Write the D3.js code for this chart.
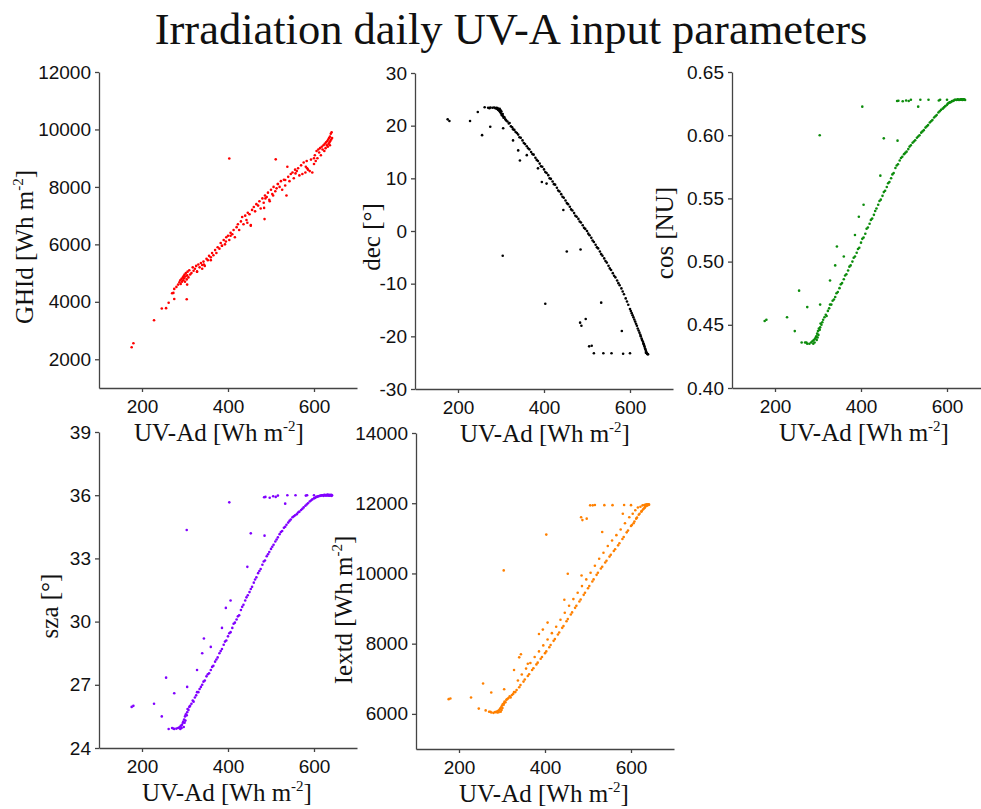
<!DOCTYPE html>
<html>
<head>
<meta charset="utf-8">
<title>Irradiation daily UV-A input parameters</title>
<script src="https://cdn.jsdelivr.net/npm/d3@7"></script>
<style>
  body { margin: 0; background: #fff; }
</style>
</head>
<body>
<svg id="lienzo" width="981" height="809"></svg>
<script>

// daily UV-A [Wh m-2], shared x of every panel (one value per day)
const uvad = [
  270, 275, 280, 284, 287, 289, 290, 292, 293, 295, 296, 297, 298, 299, 300, 301, 302, 304, 305, 306,
  308, 310, 312, 315, 318, 320, 323, 326, 328, 331, 334, 337, 340, 343, 346, 350, 353, 356, 360, 363,
  366, 370, 373, 376, 380, 383, 386, 390, 393, 396,
  400, 403, 406, 410, 413, 416, 420, 423, 426, 430, 433, 436, 440, 443, 446, 450, 453, 456, 460, 463,
  466, 470, 473, 476, 480, 483, 486, 490, 493, 496,
  500, 503, 506, 510, 513, 516, 520, 523, 526, 530, 533, 536, 540, 543, 546, 550, 553, 556, 560, 563,
  566, 570, 573, 576, 580, 583, 586, 590, 593, 596,
  600, 602, 604, 606, 608, 610, 612, 614, 616, 618, 620, 622, 624, 625, 627, 628, 630, 631, 632, 633,
  634, 635, 636, 637, 638, 639, 640, 641, 642, 637,
  176, 180, 228, 246, 256, 262, 275, 273, 304, 403, 511, 453, 485, 533, 484, 487, 497, 505, 516, 538,
  557, 584, 600, 581, 305, 328, 340, 344, 360, 386, 395, 406, 445
];

// GHId [Wh m-2]
const ghid = [
  4300, 4450, 4520, 4600, 4680, 4750, 4620, 4800, 4700, 4850, 4750, 4900, 4820, 4950, 4700, 4880, 5000, 4780, 4920, 5050,
  4850, 5100, 4950, 5000, 5200, 5080, 5150, 5250, 5050, 5300, 5200, 5350, 5280, 5400, 5250, 5500, 5450, 5600, 5550, 5700,
  5620, 5800, 5700, 5900, 5850, 6050, 5950, 6150, 6000, 6250,
  6300, 6150, 6400, 6350, 6500, 6250, 6600, 6700, 6500, 6800, 6950, 6700, 7000, 6850, 7100, 7050, 6650, 7200, 7300, 7150,
  7400, 7350, 7500, 7250, 7600, 7450, 7700, 7650, 7800, 7550,
  7900, 7750, 8000, 7850, 7950, 8100, 8000, 8200, 7900, 8250, 8050, 7700, 8350, 8200, 8450, 8500, 8300, 8600, 8550, 8650,
  8400, 8750, 8450, 8850, 8500, 8900, 8600, 8550, 8950, 8500,
  8800, 9100, 8900, 9250, 9000, 9300, 9200, 9350, 9100, 9400, 9300, 9450, 9250, 9500, 9350, 9550, 9450, 9600, 9400, 9650,
  9500, 9700, 9550, 9750, 9600, 9850, 9650, 9900, 9700, 9450,
  2420, 2560, 3360, 3770, 3780, 3970, 4100, 4310, 4090, 8990, 8960, 6670, 6880, 8240, 7270, 7600, 7500, 7700, 8100, 8700,
  8470, 8650, 9000, 8700, 4600, 5050, 5150, 5300, 5450, 5950, 6100, 6300, 6750
];

// declination [°]
const dec = [
  23.4, 23.45, 23.4, 23.44, 23.3, 23.4, 23.2, 23.35, 23.0, 23.1, 22.8, 23.2, 22.6, 22.9, 22.3, 22.7, 22.0, 22.2, 21.8, 21.5,
  21.6, 21.2, 21.0, 20.8, 20.4, 20.5, 19.9, 19.7, 19.3, 19.2, 18.8, 18.6, 18.3, 17.8, 17.7, 17.2, 16.7, 16.5, 16.1, 15.7,
  15.5, 15.0, 14.6, 14.5, 13.9, 13.5, 13.3, 12.8, 12.3, 12.2,
  11.7, 11.2, 11.0, 10.6, 10.0, 9.9, 9.4, 8.9, 8.8, 8.2, 7.7, 7.5, 7.0, 6.5, 6.3, 5.8, 5.3, 5.1, 4.6, 4.1,
  3.9, 3.4, 2.9, 2.7, 2.3, 1.8, 1.6, 1.1, 0.6, 0.4,
  0.0, -0.5, -0.8, -1.3, -1.8, -2.1, -2.6, -3.1, -3.3, -3.9, -4.4, -4.7, -5.2, -5.7, -6.0, -6.6, -7.1, -7.4, -8.0, -8.5,
  -8.8, -9.4, -9.9, -10.3, -10.9, -11.5, -12.0, -12.8, -13.4, -14.0,
  -14.8, -15.2, -15.6, -16.0, -16.4, -16.8, -17.2, -17.6, -18.0, -18.5, -18.9, -19.3, -19.7, -20.0, -20.4, -20.7, -21.0, -21.3, -21.5, -21.8,
  -22.0, -22.3, -22.5, -22.8, -23.0, -23.2, -23.3, -23.4, -23.4, -23.1,
  21.2, 20.9, 20.9, 22.6, 18.2, 23.5, 19.8, 23.3, -4.7, -13.8, -21.8, -3.9, -3.5, -13.6, -17.4, -18.0, -16.7, -21.9, -23.2, -23.2,
  -23.2, -23.3, -23.2, -19.0, 19.5, 17.2, 15.3, 13.4, 14.4, 11.9, 9.3, 9.0, 4.0
];

// cos [NU]
const cosz = [
  0.436, 0.435, 0.435, 0.436, 0.437, 0.435, 0.438, 0.436, 0.439, 0.440, 0.441, 0.438, 0.443, 0.440, 0.445, 0.442, 0.447, 0.446, 0.448, 0.451,
  0.450, 0.452, 0.454, 0.456, 0.458, 0.457, 0.461, 0.463, 0.466, 0.466, 0.469, 0.470, 0.472, 0.475, 0.476, 0.479, 0.482, 0.483, 0.486, 0.489,
  0.490, 0.493, 0.496, 0.497, 0.500, 0.503, 0.504, 0.507, 0.510, 0.511,
  0.515, 0.518, 0.519, 0.522, 0.526, 0.527, 0.530, 0.533, 0.534, 0.537, 0.540, 0.542, 0.545, 0.548, 0.549, 0.552, 0.555, 0.556, 0.559, 0.562,
  0.563, 0.566, 0.569, 0.570, 0.574, 0.576, 0.577, 0.580, 0.582, 0.583,
  0.585, 0.586, 0.587, 0.589, 0.591, 0.592, 0.594, 0.595, 0.596, 0.598, 0.599, 0.600, 0.602, 0.603, 0.604, 0.606, 0.607, 0.608, 0.610, 0.611,
  0.612, 0.614, 0.615, 0.616, 0.618, 0.619, 0.620, 0.621, 0.622, 0.623,
  0.624, 0.625, 0.6255, 0.626, 0.626, 0.6265, 0.627, 0.627, 0.6275, 0.628, 0.628, 0.6278, 0.628, 0.6284, 0.628, 0.6278, 0.628, 0.6282, 0.628, 0.6285,
  0.6283, 0.628, 0.6278, 0.628, 0.6284, 0.628, 0.6282, 0.628, 0.6279, 0.6282,
  0.453, 0.454, 0.456, 0.445, 0.477, 0.436, 0.464, 0.436, 0.600, 0.6226, 0.627, 0.5975, 0.5957, 0.6226, 0.627, 0.6272, 0.6268, 0.6275, 0.628, 0.628,
  0.628, 0.628, 0.628, 0.6275, 0.466, 0.485, 0.497, 0.512, 0.504, 0.521, 0.5355, 0.545, 0.568
];

// sza [°]
const sza = [
  24.95, 24.9, 24.92, 24.95, 24.98, 24.9, 25.05, 24.95, 25.1, 25.2, 25.25, 25.0, 25.35, 25.2, 25.5, 25.3, 25.6, 25.55, 25.7, 25.85,
  25.8, 25.95, 26.0, 26.1, 26.25, 26.2, 26.4, 26.5, 26.65, 26.65, 26.8, 26.9, 27.0, 27.15, 27.2, 27.4, 27.5, 27.55, 27.7, 27.85,
  27.9, 28.1, 28.2, 28.3, 28.5, 28.6, 28.7, 28.9, 29.05, 29.1,
  29.3, 29.45, 29.5, 29.7, 29.9, 29.95, 30.1, 30.25, 30.3, 30.55, 30.7, 30.8, 31.0, 31.15, 31.25, 31.4, 31.55, 31.65, 31.85, 32.0,
  32.1, 32.3, 32.4, 32.5, 32.7, 32.85, 32.9, 33.1, 33.2, 33.3,
  33.45, 33.55, 33.65, 33.8, 33.9, 34.0, 34.15, 34.25, 34.3, 34.45, 34.5, 34.6, 34.7, 34.78, 34.85, 34.95, 35.0, 35.05, 35.1, 35.18,
  35.22, 35.3, 35.36, 35.42, 35.5, 35.56, 35.62, 35.7, 35.75, 35.8,
  35.85, 35.87, 35.9, 35.92, 35.93, 35.95, 35.96, 35.97, 35.98, 35.99, 36.0, 35.97, 36.02, 35.99, 36.01, 35.98, 36.0, 36.03, 35.99, 36.0,
  36.02, 35.98, 36.0, 36.01, 35.99, 36.0, 36.02, 35.97, 36.0, 36.01,
  25.95, 26.0, 26.1, 25.5, 27.34, 24.9, 26.6, 24.92, 34.35, 35.66, 35.92, 34.19, 34.08, 35.6, 35.9, 35.92, 35.88, 35.95, 35.98, 36.0,
  36.0, 36.0, 36.0, 35.98, 26.9, 27.7, 28.5, 29.2, 28.8, 29.7, 30.65, 31.0, 32.6
];

// Iextd [Wh m-2]
const iextd = [
  6060, 6040, 6030, 6050, 6060, 6040, 6080, 6050, 6100, 6130, 6150, 6060, 6190, 6110, 6240, 6170, 6280, 6260, 6310, 6350,
  6330, 6400, 6420, 6450, 6500, 6470, 6540, 6570, 6620, 6620, 6680, 6950, 6760, 6820, 7120, 6920, 6980, 7290, 7080, 7130,
  7450, 7250, 7300, 7620, 7410, 7460, 7780, 7570, 7620, 7950,
  7730, 7780, 8120, 7900, 7960, 8300, 8080, 8130, 8480, 8260, 8320, 8680, 8450, 8500, 8880, 8640, 8700, 9080, 8830, 8890,
  9270, 9020, 9080, 9450, 9200, 9260, 9640, 9390, 9450, 9830,
  9580, 9640, 10020, 9770, 9830, 10220, 9960, 10020, 10420, 10140, 10190, 10590, 10310, 10360, 10780, 10480, 10530, 10940, 10640, 10690,
  11090, 10800, 10860, 11250, 10980, 11040, 11430, 11170, 11220, 11600,
  11350, 11380, 11700, 11430, 11480, 11800, 11560, 11590, 11880, 11670, 11700, 11900, 11760, 11780, 11940, 11820, 11850, 11950, 11870, 11900,
  11960, 11920, 11930, 11970, 11940, 11960, 11950, 11970, 11960, 11950,
  6420, 6440, 6465, 6150, 6866, 6100, 6608, 6060, 10086, 11106, 11940, 9991, 9943, 11180, 11600, 11520, 11560, 11940, 11950, 11945,
  11945, 11950, 11945, 11700, 6700, 7250, 7610, 7700, 7430, 8277, 8400, 8600, 9250
];

// tick labels
const xTicks = [200, 400, 600];
const ghidTicks = [2000, 4000, 6000, 8000, 10000, 12000];
const decTicks = [-30, -20, -10, 0, 10, 20, 30];
const cosTicks = [0.40, 0.45, 0.50, 0.55, 0.60, 0.65];
const szaTicks = [24, 27, 30, 33, 36, 39];
const iextdTicks = [6000, 8000, 10000, 12000, 14000];

const serif = '"Liberation Serif", "Times New Roman", serif';
const sans = '"Liberation Sans", Arial, sans-serif';
const ancho = 258, alto = 316;

// plain hyphen for negatives, like the original
const local = d3.formatLocale({ decimal: '.', thousands: '', grouping: [3], currency: ['', ''], minus: '-' });
const entero = local.format('d');
const dosDec = local.format('.2f');

// one entry per panel: where it sits and how it looks
const paneles = [
  { y: ghid, dom: [1000, 12000], ticks: ghidTicks, fmt: entero, color: '#ff0000',
    nombre: 'GHId [Wh m', sup: true, left: 99, top: 72, labX: 33, labY: 247, xlabX: 219 },
  { y: dec, dom: [-30, 30], ticks: decTicks, fmt: entero, color: '#000000',
    nombre: 'dec [°]', sup: false, left: 415, top: 73, labX: 380, labY: 237, xlabX: 545 },
  { y: cosz, dom: [0.40, 0.65], ticks: cosTicks, fmt: dosDec, color: '#0c8c0c',
    nombre: 'cos [NU]', sup: false, left: 732, top: 72, labX: 673, labY: 233, xlabX: 864 },
  { y: sza, dom: [24, 39], ticks: szaTicks, fmt: entero, color: '#8000ff',
    nombre: 'sza [°]', sup: false, left: 99, top: 432, labX: 58, labY: 606, xlabX: 227 },
  { y: iextd, dom: [5000, 14000], ticks: iextdTicks, fmt: entero, color: '#ff8000',
    nombre: 'Iextd [Wh m', sup: true, left: 416, top: 433, labX: 352, labY: 610, xlabX: 544 }
];

const svg = d3.select('#lienzo');

svg.append('rect').attr('width', 981).attr('height', 809).attr('fill', '#fff');

// title
svg.append('text')
  .attr('x', 511).attr('y', 44)
  .attr('text-anchor', 'middle')
  .attr('font-family', serif)
  .attr('font-size', '44.5px')
  .attr('fill', '#111')
  .text('Irradiation daily UV-A input parameters');

// label with an optional "-2" superscript
function etiqueta(sel, texto, conSup) {
  sel.append('tspan').text(texto);
  if (conSup) {
    sel.append('tspan').attr('font-size', '15px').attr('dy', -10).text('-2');
    sel.append('tspan').attr('dy', 10).text(']');
  }
}

paneles.forEach(p => {
  const x = d3.scaleLinear().domain([100, 700]).range([p.left, p.left + ancho]);
  const y = d3.scaleLinear().domain(p.dom).range([p.top + alto, p.top]);

  const g = svg.append('g');

  // points
  g.selectAll('circle')
    .data(d3.range(uvad.length))
    .enter()
    .append('circle')
    .attr('cx', i => x(uvad[i]))
    .attr('cy', i => y(p.y[i]))
    .attr('r', 1.3)
    .attr('fill', p.color);

  // axes
  const ejeX = g.append('g')
    .attr('transform', `translate(0,${p.top + alto})`)
    .call(d3.axisBottom(x).tickValues(xTicks).tickSize(4).tickSizeOuter(0).tickPadding(8).tickFormat(entero));
  const ejeY = g.append('g')
    .attr('transform', `translate(${p.left},0)`)
    .call(d3.axisLeft(y).tickValues(p.ticks).tickSize(4).tickSizeOuter(0).tickPadding(4).tickFormat(p.fmt));

  [ejeX, ejeY].forEach(e => {
    e.attr('font-family', sans).attr('font-size', '19px');
    e.selectAll('path, line').attr('stroke', '#444').attr('stroke-width', 1.3);
    e.selectAll('text').attr('fill', '#111');
  });

  // x title
  const tx = g.append('text')
    .attr('x', p.xlabX).attr('y', p.top + alto + 53)
    .attr('text-anchor', 'middle')
    .attr('font-family', serif)
    .attr('font-size', '25px')
    .attr('fill', '#111');
  etiqueta(tx, 'UV-Ad [Wh m', true);

  // y title
  const ty = g.append('text')
    .attr('transform', `translate(${p.labX},${p.labY}) rotate(-90)`)
    .attr('text-anchor', 'middle')
    .attr('font-family', serif)
    .attr('font-size', '25px')
    .attr('fill', '#111');
  etiqueta(ty, p.nombre, p.sup);
});

</script>
</body>
</html>
